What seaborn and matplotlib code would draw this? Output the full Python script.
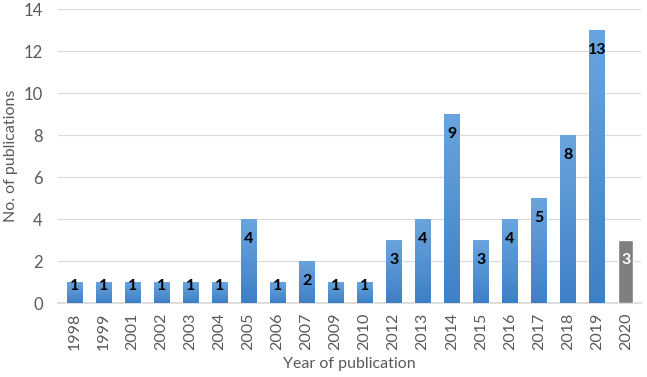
import matplotlib
matplotlib.use("Agg")
import matplotlib.pyplot as plt
import seaborn as sns
import numpy as np
import pandas as pd
from matplotlib.colors import LinearSegmentedColormap

years = ["1998", "1999", "2001", "2002", "2003", "2004", "2005", "2006", "2007", "2009",
         "2010", "2012", "2013", "2014", "2015", "2016", "2017", "2018", "2019", "2020"]
counts = [1, 1, 1, 1, 1, 1, 4, 1, 2, 1, 1, 3, 4, 9, 3, 4, 5, 8, 13, 3]
highlight = ["2020"]

sns.set_theme(style="white")
plt.rcParams['font.family'] = ['Lato', 'DejaVu Sans']

df = pd.DataFrame({"year": years, "count": counts})
df["kind"] = ["partial" if y in highlight else "full" for y in years]

fig = plt.figure(figsize=(6.47, 3.77), dpi=100)
ax = fig.add_axes([0.0896, 0.196, 0.9014, 0.780])

sns.barplot(data=df, x="year", y="count", hue="kind",
            palette={"full": "#5B9BD5", "partial": "#7F7F7F"},
            width=0.52, dodge=False, legend=False, ax=ax, zorder=3)

ax.set_ylim(0, 14)
ax.set_xlim(-0.57, len(years) - 0.47)
ax.set_yticks(np.arange(0, 15, 2))
ax.yaxis.grid(True, color="#D9D9D9", linewidth=0.8, zorder=0)
ax.set_axisbelow(True)
for s in ["top", "right", "left"]:
    ax.spines[s].set_visible(False)
ax.spines["bottom"].set_color("#D9D9D9")
ax.tick_params(axis="both", length=0, colors="#595959", labelsize=11.5)
ax.tick_params(axis="y", labelsize=12)
ax.tick_params(axis="x", rotation=90, pad=7)
ax.tick_params(axis="y", pad=11)
ax.set_xlabel("Year of publication", color="#595959", fontsize=11.5, labelpad=5)
ax.set_ylabel("No. of publications", color="#595959", fontsize=11.5, labelpad=4)

# gradient fill on blue bars
cmap = LinearSegmentedColormap.from_list("g", ["#3E80C6", "#6AA5DE"])
grad = np.linspace(0, 1, 256).reshape(-1, 1)
for patch, k in zip(ax.patches, df["kind"]):
    if k != "full":
        continue
    x0, y0 = patch.get_x(), patch.get_y()
    w, h = patch.get_width(), patch.get_height()
    im = ax.imshow(grad, cmap=cmap, origin="lower", aspect="auto",
                   extent=[x0, x0 + w, y0, y0 + h], zorder=4)
    im.set_clip_path(patch)
ax.set_xlim(-0.57, len(years) - 0.47)
ax.set_ylim(0, 14)

for i, (v, k) in enumerate(zip(counts, df["kind"])):
    ypos = v - 0.95 if v - 0.95 > 0.5 else v * 0.8
    ax.text(i, ypos, str(v), ha="center", va="center", fontsize=11.5,
            fontweight="bold", color="white" if k == "partial" else "black", zorder=6)

fig.savefig("out.png", dpi=100)
